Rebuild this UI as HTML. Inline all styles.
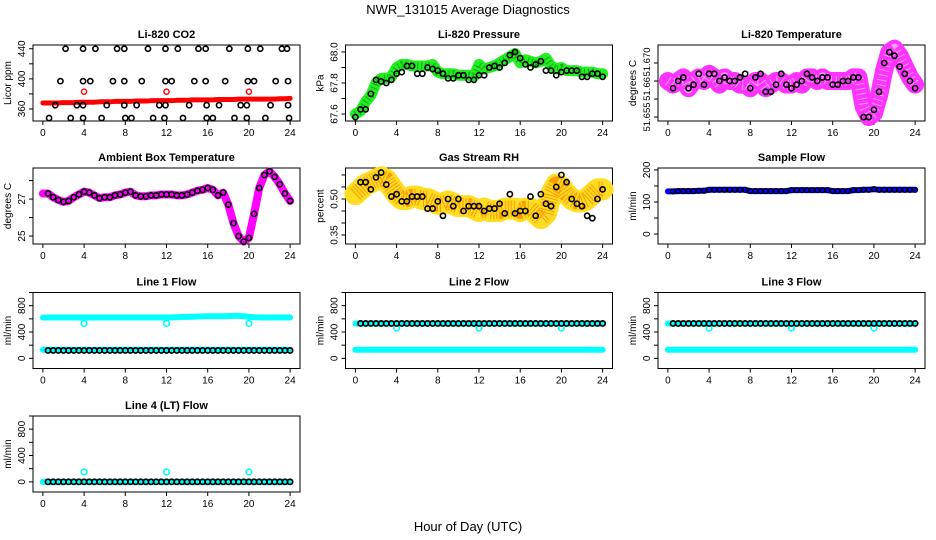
<!DOCTYPE html>
<html><head><meta charset="utf-8"><style>
html,body{margin:0;padding:0;background:#fff}
svg{display:block;font-family:"Liberation Sans",sans-serif}
</style></head><body>
<svg id="chart" width="936" height="540" viewBox="0 0 936 540">
<text x="468" y="14" text-anchor="middle" font-size="13">NWR_131015  Average Diagnostics</text>
<text x="468" y="531" text-anchor="middle" font-size="13">Hour of Day (UTC)</text>
</svg>
<script>
// ---------- data ----------
const halfHours = [0,0.5,1,1.5,2,2.5,3,3.5,4,4.5,5,5.5,6,6.5,7,7.5,8,8.5,9,9.5,10,10.5,11,11.5,12,12.5,13,13.5,14,14.5,15,15.5,16,16.5,17,17.5,18,18.5,19,19.5,20,20.5,21,21.5,22,22.5,23,23.5,24];
const xTicks = [0,4,8,12,16,20,24];
const calHours = [4,12,20];

// CO2
const co2RowHiX = [2.2,3.9,5.1,7.2,7.9,10.2,11.9,13.1,15.1,15.8,18.1,19.9,21.1,23.2,23.7];
const co2RowMidX = [1.7,3.9,4.6,6.8,7.9,9.6,11.9,12.5,14.7,15.8,17.7,19.9,20.5,22.6,23.8];
const co2RowLowX = [1.2,3.3,3.9,6.2,7.9,9.1,11.3,11.9,14.2,15.9,17.1,19.2,19.8,22.1,23.8];
const co2RowBotX = [0.6,2.7,3.9,5.7,8.0,8.6,10.7,11.8,13.6,15.9,16.5,18.6,19.8,21.6,23.9];
const co2RowLevels = [440,397,365,348];
const co2Red = [368,368,368,368,368.5,368.5,368.5,369,369,369,369,369.5,369.5,369.5,370,370,370,370,370.5,370.5,370.5,371,371,371,371,371,371.5,371.5,371.5,372,372,372,372,372,372.5,372.5,372.5,372.5,373,373,373,373,373,373,373,373,373.5,373.5,374];
const co2RedCal = [383,383,383];

// Pressure
const presGreen = [67.60,67.62,67.68,67.72,67.80,67.83,67.83,67.84,67.90,67.92,67.92,67.91,67.91,67.91,67.91,67.92,67.87,67.86,67.86,67.86,67.85,67.85,67.85,67.84,67.92,67.89,67.90,67.91,67.93,67.95,67.97,67.99,67.93,67.95,67.94,67.93,67.94,67.96,67.91,67.89,67.90,67.88,67.88,67.88,67.87,67.87,67.87,67.86,67.86];
const presBlack = [67.58,67.63,67.63,67.73,67.82,67.81,67.80,67.82,67.86,67.87,67.91,67.91,67.86,67.86,67.90,67.89,67.88,67.86,67.83,67.83,67.85,67.85,67.82,67.82,67.85,67.85,67.90,67.91,67.90,67.93,67.98,68.00,67.96,67.92,67.90,67.92,67.94,67.88,67.88,67.85,67.87,67.88,67.88,67.88,67.84,67.84,67.86,67.86,67.84];

// Li-820 temperature
const tempMag = [51.665,51.664,51.665,51.666,51.663,51.665,51.666,51.665,51.667,51.666,51.664,51.666,51.665,51.665,51.664,51.664,51.663,51.665,51.665,51.663,51.664,51.665,51.665,51.664,51.664,51.665,51.664,51.666,51.666,51.665,51.666,51.665,51.665,51.665,51.665,51.665,51.666,51.666,51.658,51.655,51.656,51.661,51.668,51.673,51.674,51.672,51.669,51.666,51.664];
const tempBlack = [51.665,51.663,51.665,51.666,51.663,51.664,51.667,51.664,51.667,51.667,51.665,51.666,51.665,51.665,51.666,51.667,51.663,51.666,51.667,51.662,51.662,51.664,51.667,51.664,51.663,51.664,51.665,51.667,51.666,51.665,51.666,51.666,51.664,51.664,51.665,51.665,51.666,51.666,51.655,51.655,51.657,51.662,51.670,51.673,51.672,51.669,51.667,51.665,51.663];

// Ambient box temperature
const ambMag = [27.3,27.3,27.1,26.95,26.85,26.9,27.1,27.25,27.4,27.35,27.2,27.05,27.1,27.1,27.2,27.25,27.35,27.4,27.2,27.15,27.15,27.2,27.2,27.25,27.25,27.25,27.2,27.2,27.25,27.35,27.45,27.5,27.6,27.5,27.2,27.35,26.7,25.7,25.0,24.7,24.9,26.2,27.6,28.3,28.5,28.2,27.8,27.3,26.9];

// Gas stream RH
const rhOrange = [0.52,0.54,0.56,0.57,0.58,0.59,0.58,0.55,0.52,0.50,0.50,0.51,0.51,0.50,0.50,0.49,0.48,0.48,0.49,0.48,0.47,0.47,0.47,0.46,0.45,0.46,0.45,0.45,0.45,0.46,0.46,0.46,0.45,0.46,0.46,0.44,0.42,0.44,0.52,0.56,0.55,0.52,0.50,0.49,0.49,0.50,0.52,0.54,0.54];
const rhBlack = [0.56,0.57,0.57,0.54,0.59,0.61,0.56,0.51,0.52,0.49,0.49,0.51,0.51,0.51,0.46,0.46,0.49,0.43,0.50,0.47,0.50,0.45,0.47,0.47,0.47,0.45,0.46,0.46,0.48,0.44,0.52,0.44,0.45,0.45,0.51,0.43,0.52,0.48,0.47,0.55,0.60,0.57,0.50,0.48,0.47,0.43,0.42,0.50,0.54];

// Sample flow
const sampleBlue = [133,133,134,134,134,134,135,135,138,138,138,138,138,138,138,138,134,134,134,134,134,134,134,134,137,137,137,137,137,137,137,137,134,134,134,134,137,137,138,138,140,138,138,138,138,138,138,138,138];

// Line flows
const flow1Hi = [620,620,620,620,620,620,620,620,620,620,620,620,620,620,620,620,620,620,620,620,620,620,620,620,620,622,625,628,630,632,635,637,640,640,640,640,642,645,645,640,630,625,622,620,620,620,620,620,620];
const flowLoLevel = [130,130,130];
const flowBlackLevel = [120,530,530,0];
const flowCyanCal = [530,460,460,150];
const flowCyanBase = [620,130,130,0];

// ---------- helpers ----------
const svg = document.getElementById('chart');
const NS = 'http://www.w3.org/2000/svg';
const colX = [33,345.5,658];
const rowY = [45,168,292.5,416];
const W = 267, H = 76;
function mk(tag, attrs, parent){
  const e = document.createElementNS(NS, tag);
  for (const k in attrs) e.setAttribute(k, attrs[k]);
  (parent||svg).appendChild(e);
  return e;
}
function panel(col,row,title,ylab,ymin,ymax,ticks,labels,labelPos){
  const g = mk('g',{});
  
  
  const x0 = colX[col], y0 = rowY[row];
  const xs = h => x0 + (h+0.96)/25.92*W;
  const ys = v => y0 + H - (v-ymin)/(ymax-ymin)*H;
  const t = mk('text',{x:x0+W/2,y:y0-7,'text-anchor':'middle','font-size':11,'font-weight':'bold'},g);
  t.textContent = title;
  
  
  const box = mk('rect',{x:x0,y:y0,width:W,height:H,fill:'none',stroke:'#000','stroke-width':1},g);
  
  
  const xa = mk('g',{},g);
  
  
  mk('line',{x1:xs(0),x2:xs(24),y1:y0+H,y2:y0+H,stroke:'#000'},xa);
  xTicks.forEach(h=>{
    mk('line',{x1:xs(h),x2:xs(h),y1:y0+H,y2:y0+H+4,stroke:'#000'},xa);
    const l = mk('text',{x:xs(h),y:y0+H+15,'text-anchor':'middle','font-size':10},xa);
    l.textContent = h;
    
    
  });
  const ya = mk('g',{},g);
  
  
  mk('line',{x1:x0,x2:x0,y1:ys(ticks[0]),y2:ys(ticks[ticks.length-1]),stroke:'#000'},ya);
  ticks.forEach((v,i)=>{
    mk('line',{x1:x0-4,x2:x0,y1:ys(v),y2:ys(v),stroke:'#000'},ya);
    if (labels[i]!==''){
      const yy = labelPos ? labelPos[i] : ys(v);
      const l = mk('text',{x:x0-8,y:yy,'text-anchor':'middle','font-size':labelPos?9.5:10,transform:`rotate(-90 ${x0-8} ${yy})`},ya);
      l.textContent = labels[i];
      
      
    }
  });
  const yl = mk('text',{x:x0-22,y:y0+H/2,'text-anchor':'middle','font-size':10,transform:`rotate(-90 ${x0-22} ${y0+H/2})`},g);
  yl.textContent = ylab;
  
  
  const marks = mk('g',{},g);
  
  
  return {xs,ys,g:marks};
}
function band(p,xsArr,vals,color,w,dash){
  const a = {points:xsArr.map((h,i)=>p.xs(h)+','+p.ys(vals[i])).join(' '),fill:'none',stroke:color,'stroke-width':w,'stroke-linejoin':'round','stroke-linecap':'round'};
  if (dash) { a['stroke-dasharray']=dash; a['stroke-linecap']='butt'; }
  const pl = mk('polyline',a,p.g);
  
  
}
function pts(p,xsArr,vals,color,r,sw){
  xsArr.forEach((h,i)=>{
    const c = mk('circle',{cx:p.xs(h),cy:p.ys(vals[i]),r:r||2.6,fill:'none',stroke:color,'stroke-width':sw||1.4},p.g);
    
    
  });
}
const blackX = halfHours.slice(1);

// 1 CO2
let p = panel(0,0,'Li-820 CO2','Licor ppm',344,445,[360,380,400,420,440],['360','','400','','440']);
band(p,halfHours,co2Red,'#f00',5);
pts(p,calHours,co2RedCal,'#f00');
[co2RowHiX,co2RowMidX,co2RowLowX,co2RowBotX].forEach((arr,k)=>pts(p,arr,arr.map(()=>co2RowLevels[k]),'#000',2.6,1.6));

// 2 Pressure
p = panel(1,0,'Li-820 Pressure','kPa',67.555,68.045,[67.6,67.7,67.8,67.9,68.0],['67.6','','67.8','','68.0']);
band(p,halfHours,presGreen,'#2e2',11);
band(p,halfHours,presGreen,'#1a1',7,'1 3');
pts(p,halfHours,presBlack,'#000',2.6,1.6);

// 3 Li-820 temperature
p = panel(2,0,'Li-820 Temperature','degrees C',51.6539,51.675,[51.655,51.66,51.665,51.67],['51.655','','51.66','51.670'],[117,0,89,62]);
band(p,halfHours,tempMag,'#f3f',18);
band(p,halfHours,tempMag,'#f9f',10,'1 4');
pts(p,blackX,tempBlack.slice(1),'#000',2.6,1.6);

// 4 Ambient
p = panel(0,1,'Ambient Box Temperature','degrees C',24.57,28.68,[25,26,27,28],['25','','27','']);
band(p,halfHours,ambMag,'#f0f',8);
pts(p,blackX,ambMag.slice(1),'#000',2.6,1.6);

// 5 RH
p = panel(1,1,'Gas Stream RH','percent',0.3125,0.629,[0.35,0.40,0.45,0.50,0.55,0.60],['0.35','','','0.50','','']);
band(p,halfHours,rhOrange,'#fd2',22);
band(p,halfHours,rhOrange,'#f90',16,'1 2');
pts(p,blackX,rhBlack.slice(1),'#000',2.6,1.6);

// 6 Sample flow
p = panel(2,1,'Sample Flow','ml/min',-31,206,[0,50,100,150,200],['0','','100','','200']);
band(p,halfHours,sampleBlue,'#00f',6);
pts(p,blackX,sampleBlue.slice(1),'#000',2.4,1.3);

// 7-10 line flows
const flowTitles = ['Line 1 Flow','Line 2 Flow','Line 3 Flow','Line 4 (LT) Flow'];
const flowPos = [[0,2],[1,2],[2,2],[0,3]];
flowTitles.forEach((title,k)=>{
  const q = panel(flowPos[k][0],flowPos[k][1],title,'ml/min',-154,1000,[0,200,400,600,800,1000],['0','','400','','800','']);
  if (k===0){
    band(q,halfHours,flow1Hi,'#0ff',6);
    band(q,halfHours,halfHours.map(()=>flowLoLevel[0]),'#0ff',6);
  } else {
    band(q,halfHours,halfHours.map(()=>flowCyanBase[k]),'#0ff',6);
    band(q,halfHours,halfHours.map(()=>flowBlackLevel[k]),'#0ff',6);
  }
  pts(q,calHours,calHours.map(()=>flowCyanCal[k]),'#0ff',2.8,1.6);
  pts(q,blackX,blackX.map(()=>flowBlackLevel[k]),'#000',2.6,1.7);
});
</script>
</body></html>
